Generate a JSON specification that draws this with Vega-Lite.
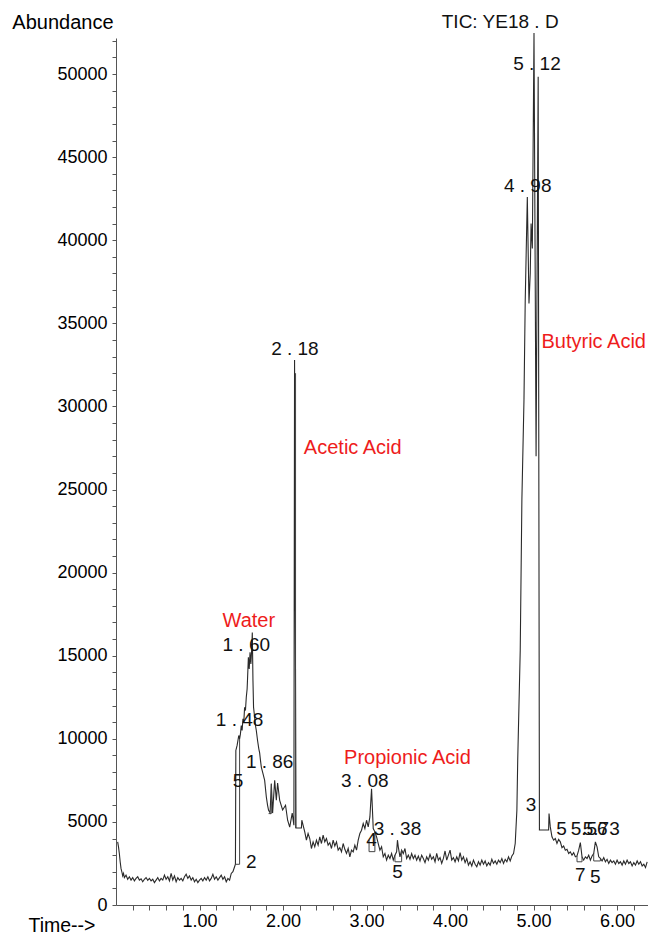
{
"$schema": "https://vega.github.io/schema/vega-lite/v6.json",
"width": 532, "height": 867,
"autosize": {"type": "none"},
"padding": {"left": 116, "top": 38, "right": 0, "bottom": 30},
"background": "white",
"config": {"view": {"stroke": null}, "font": "Liberation Sans"},
"datasets": {
"sig": [
{"t":0.02,"A":3800},{"t":0.03,"A":3500},{"t":0.04,"A":3100},{"t":0.05,"A":2600},{"t":0.06,"A":2200},{"t":0.07,"A":2000},{"t":0.08,"A":1750},{"t":0.09,"A":1900},{"t":0.10,"A":1650},
{"t":0.12,"A":1800},{"t":0.14,"A":1550},{"t":0.16,"A":1700},{"t":0.18,"A":1500},{"t":0.20,"A":1650},{"t":0.22,"A":1450},{"t":0.24,"A":1600},{"t":0.26,"A":1700},{"t":0.28,"A":1500},{"t":0.30,"A":1580},
{"t":0.32,"A":1400},{"t":0.34,"A":1550},{"t":0.36,"A":1650},{"t":0.38,"A":1480},{"t":0.40,"A":1600},{"t":0.42,"A":1450},{"t":0.44,"A":1550},{"t":0.46,"A":1350},{"t":0.48,"A":1500},{"t":0.50,"A":1650},
{"t":0.52,"A":1450},{"t":0.54,"A":1600},{"t":0.56,"A":1500},{"t":0.58,"A":1800},{"t":0.60,"A":1550},{"t":0.62,"A":1700},{"t":0.64,"A":1450},{"t":0.66,"A":1900},{"t":0.68,"A":1500},{"t":0.70,"A":1750},
{"t":0.72,"A":1400},{"t":0.74,"A":1650},{"t":0.76,"A":1500},{"t":0.78,"A":1600},{"t":0.80,"A":1450},{"t":0.82,"A":1700},{"t":0.84,"A":1850},{"t":0.86,"A":1600},{"t":0.88,"A":1750},{"t":0.90,"A":1500},
{"t":0.92,"A":1650},{"t":0.94,"A":1400},{"t":0.96,"A":1550},{"t":0.98,"A":1350},{"t":1.00,"A":1500},{"t":1.02,"A":1600},{"t":1.04,"A":1450},{"t":1.06,"A":1650},{"t":1.08,"A":1500},{"t":1.10,"A":1700},
{"t":1.12,"A":1450},{"t":1.14,"A":1600},{"t":1.16,"A":1850},{"t":1.18,"A":1550},{"t":1.20,"A":1700},{"t":1.22,"A":1500},{"t":1.24,"A":1650},{"t":1.26,"A":1800},{"t":1.28,"A":1550},{"t":1.30,"A":1700},
{"t":1.32,"A":1400},{"t":1.34,"A":1600},{"t":1.36,"A":1500},{"t":1.38,"A":1900},{"t":1.40,"A":2000},{"t":1.42,"A":2300},{"t":1.43,"A":2450},
{"t":1.435,"A":9300},{"t":1.45,"A":9600},{"t":1.47,"A":10200},{"t":1.48,"A":10000},{"t":1.49,"A":10300},{"t":1.50,"A":10800},{"t":1.51,"A":10500},{"t":1.52,"A":11200},{"t":1.53,"A":11000},
{"t":1.54,"A":11900},{"t":1.55,"A":11700},{"t":1.56,"A":12500},{"t":1.57,"A":13000},{"t":1.575,"A":13600},{"t":1.585,"A":14900},{"t":1.595,"A":14200},{"t":1.605,"A":15200},{"t":1.615,"A":14500},
{"t":1.625,"A":15400},{"t":1.632,"A":16400},{"t":1.64,"A":13500},{"t":1.647,"A":11900},{"t":1.66,"A":11300},{"t":1.67,"A":10800},{"t":1.68,"A":10500},{"t":1.695,"A":9900},{"t":1.71,"A":9400},
{"t":1.72,"A":9150},{"t":1.73,"A":8700},{"t":1.74,"A":8300},{"t":1.76,"A":7900},{"t":1.78,"A":7500},{"t":1.80,"A":6500},{"t":1.815,"A":6000},{"t":1.827,"A":5700},{"t":1.845,"A":5550},
{"t":1.86,"A":7300},{"t":1.875,"A":5530},{"t":1.90,"A":7500},{"t":1.92,"A":6300},{"t":1.935,"A":7340},{"t":1.96,"A":6300},{"t":1.995,"A":5720},{"t":2.03,"A":6000},{"t":2.055,"A":5100},
{"t":2.08,"A":4690},{"t":2.11,"A":5530},{"t":2.13,"A":4800},{"t":2.138,"A":32800},{"t":2.155,"A":4630},{"t":2.22,"A":4630},{"t":2.225,"A":5100},
{"t":2.24,"A":4800},{"t":2.26,"A":4400},{"t":2.28,"A":3900},{"t":2.30,"A":4300},{"t":2.32,"A":4000},{"t":2.34,"A":3400},{"t":2.36,"A":3800},{"t":2.38,"A":3500},{"t":2.40,"A":3900},{"t":2.42,"A":3600},
{"t":2.44,"A":4100},{"t":2.46,"A":3700},{"t":2.48,"A":4200},{"t":2.50,"A":3800},{"t":2.52,"A":4000},{"t":2.54,"A":3600},{"t":2.56,"A":3750},{"t":2.58,"A":3400},{"t":2.60,"A":3900},{"t":2.62,"A":3550},
{"t":2.64,"A":3800},{"t":2.66,"A":3300},{"t":2.68,"A":3450},{"t":2.70,"A":3200},{"t":2.72,"A":3700},{"t":2.74,"A":3350},{"t":2.76,"A":3100},{"t":2.78,"A":3400},{"t":2.80,"A":2900},{"t":2.82,"A":3300},
{"t":2.84,"A":3200},{"t":2.86,"A":3600},{"t":2.88,"A":3300},{"t":2.90,"A":3900},{"t":2.92,"A":4300},{"t":2.94,"A":4500},{"t":2.96,"A":4900},{"t":2.98,"A":4600},{"t":3.00,"A":5100},{"t":3.02,"A":4700},
{"t":3.04,"A":5300},{"t":3.06,"A":7000},{"t":3.08,"A":4600},{"t":3.10,"A":4400},{"t":3.12,"A":4100},{"t":3.14,"A":3700},{"t":3.16,"A":3300},{"t":3.18,"A":3500},{"t":3.20,"A":2900},{"t":3.22,"A":3100},
{"t":3.24,"A":2700},{"t":3.26,"A":3000},{"t":3.28,"A":2800},{"t":3.30,"A":3100},{"t":3.32,"A":2700},{"t":3.34,"A":3000},{"t":3.36,"A":3200},{"t":3.37,"A":3900},{"t":3.38,"A":3500},{"t":3.40,"A":2900},
{"t":3.42,"A":3300},{"t":3.44,"A":3100},{"t":3.46,"A":3400},{"t":3.48,"A":2800},{"t":3.50,"A":3000},{"t":3.52,"A":2750},{"t":3.54,"A":3100},{"t":3.56,"A":2800},{"t":3.58,"A":3000},{"t":3.60,"A":2700},
{"t":3.62,"A":2950},{"t":3.64,"A":2650},{"t":3.66,"A":3000},{"t":3.68,"A":2800},{"t":3.70,"A":2550},{"t":3.72,"A":2900},{"t":3.74,"A":2700},{"t":3.76,"A":3050},{"t":3.78,"A":2750},{"t":3.80,"A":2900},
{"t":3.82,"A":2600},{"t":3.84,"A":3100},{"t":3.86,"A":2700},{"t":3.88,"A":2850},{"t":3.90,"A":2500},{"t":3.92,"A":2800},{"t":3.94,"A":3250},{"t":3.96,"A":2700},{"t":3.98,"A":3000},{"t":4.00,"A":3300},
{"t":4.02,"A":2700},{"t":4.04,"A":2850},{"t":4.06,"A":2600},{"t":4.08,"A":2900},{"t":4.10,"A":2650},{"t":4.12,"A":3150},{"t":4.14,"A":2700},{"t":4.16,"A":2900},{"t":4.18,"A":2550},{"t":4.20,"A":2800},
{"t":4.22,"A":2400},{"t":4.24,"A":2600},{"t":4.26,"A":2350},{"t":4.28,"A":2700},{"t":4.30,"A":2450},{"t":4.32,"A":2300},{"t":4.34,"A":2600},{"t":4.36,"A":2400},{"t":4.38,"A":2700},{"t":4.40,"A":2450},
{"t":4.42,"A":2650},{"t":4.44,"A":2350},{"t":4.46,"A":2550},{"t":4.48,"A":2400},{"t":4.50,"A":2750},{"t":4.52,"A":2500},{"t":4.54,"A":2650},{"t":4.56,"A":2450},{"t":4.58,"A":2700},{"t":4.60,"A":2550},
{"t":4.62,"A":2800},{"t":4.64,"A":2500},{"t":4.66,"A":2750},{"t":4.68,"A":2600},{"t":4.70,"A":2900},{"t":4.72,"A":2650},{"t":4.74,"A":2950},{"t":4.76,"A":3100},{"t":4.78,"A":3700},{"t":4.80,"A":5700},
{"t":4.81,"A":8700},{"t":4.84,"A":15300},{"t":4.86,"A":24400},{"t":4.885,"A":30400},{"t":4.90,"A":36400},{"t":4.925,"A":42600},{"t":4.945,"A":36200},{"t":4.96,"A":38000},{"t":4.97,"A":41000},
{"t":4.985,"A":39500},{"t":5.005,"A":52470},{"t":5.03,"A":27000},{"t":5.055,"A":49840},{"t":5.07,"A":4510},{"t":5.18,"A":4510},{"t":5.185,"A":5500},
{"t":5.20,"A":4700},{"t":5.22,"A":4100},{"t":5.24,"A":3900},{"t":5.26,"A":4000},{"t":5.28,"A":3700},{"t":5.30,"A":3950},{"t":5.32,"A":3800},{"t":5.34,"A":3450},{"t":5.36,"A":3550},{"t":5.38,"A":3300},
{"t":5.40,"A":3350},{"t":5.42,"A":3100},{"t":5.44,"A":3200},{"t":5.46,"A":3000},{"t":5.48,"A":3150},{"t":5.50,"A":2900},{"t":5.52,"A":2950},{"t":5.54,"A":3300},{"t":5.56,"A":3750},{"t":5.58,"A":2900},
{"t":5.60,"A":2700},{"t":5.62,"A":2900},{"t":5.64,"A":2800},{"t":5.66,"A":3000},{"t":5.68,"A":2700},{"t":5.70,"A":2950},{"t":5.72,"A":3100},{"t":5.74,"A":3800},{"t":5.76,"A":3500},{"t":5.78,"A":2900},
{"t":5.80,"A":2800},{"t":5.82,"A":2650},{"t":5.84,"A":2850},{"t":5.86,"A":2600},{"t":5.88,"A":2750},{"t":5.90,"A":2500},{"t":5.92,"A":2700},{"t":5.94,"A":2550},{"t":5.96,"A":2650},{"t":5.98,"A":2450},
{"t":6.00,"A":2700},{"t":6.02,"A":2500},{"t":6.04,"A":2600},{"t":6.06,"A":2400},{"t":6.08,"A":2650},{"t":6.10,"A":2450},{"t":6.12,"A":2700},{"t":6.14,"A":2500},{"t":6.16,"A":2600},{"t":6.18,"A":2350},
{"t":6.20,"A":2550},{"t":6.22,"A":2400},{"t":6.24,"A":2650},{"t":6.26,"A":2450},{"t":6.28,"A":2600},{"t":6.30,"A":2350},{"t":6.32,"A":2450},{"t":6.34,"A":2250},{"t":6.36,"A":2600}
],
"boxes": [
{"t":1.43,"t2":1.48,"A":2450,"A2":2450},{"t":1.48,"t2":1.48,"A":2450,"A2":10000},
{"t":1.827,"t2":1.86,"A":5500,"A2":5500},{"t":1.86,"t2":1.86,"A":5500,"A2":7300},
{"t":2.15,"t2":2.15,"A":4630,"A2":32000},
{"t":3.03,"t2":3.10,"A":3210,"A2":3210},{"t":3.03,"t2":3.03,"A":3210,"A2":3900},{"t":3.10,"t2":3.10,"A":3210,"A2":4400},
{"t":3.34,"t2":3.42,"A":2600,"A2":2600},{"t":3.34,"t2":3.34,"A":2600,"A2":3000},{"t":3.42,"t2":3.42,"A":2600,"A2":3300},
{"t":5.52,"t2":5.58,"A":2600,"A2":2600},{"t":5.52,"t2":5.52,"A":2600,"A2":2950},{"t":5.58,"t2":5.58,"A":2600,"A2":2900},
{"t":5.72,"t2":5.80,"A":2650,"A2":2650},{"t":5.72,"t2":5.72,"A":2650,"A2":3100},{"t":5.80,"t2":5.80,"A":2650,"A2":2800}
],
"labels": [
{"t":4.60,"A":53130,"txt":"TIC: YE18 . D"},
{"t":5.04,"A":50600,"txt":"5 . 12"},
{"t":4.93,"A":43260,"txt":"4 . 98"},
{"t":2.142,"A":33450,"txt":"2 . 18"},
{"t":1.56,"A":15640,"txt":"1 . 60"},
{"t":1.48,"A":11130,"txt":"1 . 48"},
{"t":1.84,"A":8600,"txt":"1 . 86"},
{"t":1.46,"A":7460,"txt":"5"},
{"t":1.62,"A":2590,"txt":"2"},
{"t":2.98,"A":7460,"txt":"3 . 08"},
{"t":3.37,"A":4570,"txt":"3 . 38"},
{"t":3.06,"A":3910,"txt":"4"},
{"t":3.37,"A":1990,"txt":"5"},
{"t":4.97,"A":6020,"txt":"3"},
{"t":5.335,"A":4570,"txt":"5"},
{"t":5.665,"A":4570,"txt":"5.56"},
{"t":5.81,"A":4570,"txt":"5.73"},
{"t":5.56,"A":1800,"txt":"7"},
{"t":5.74,"A":1690,"txt":"5"}
],
"names": [
{"t":1.59,"A":17090,"txt":"Water"},
{"t":2.835,"A":27500,"txt":"Acetic Acid"},
{"t":3.49,"A":8850,"txt":"Propionic Acid"},
{"t":5.72,"A":33880,"txt":"Butyric Acid"}
]
},
"encoding": {
"x": {"field": "t", "type": "quantitative",
"scale": {"domain": [0, 6.37], "nice": false, "zero": false},
"axis": {"orient": "bottom", "title": "Time-->", "titleFontSize": 19.5, "titleFontWeight": "normal", "titleColor": "#000",
"titleAlign": "right", "titleBaseline": "middle", "titleX": -21, "titleY": 20,
"values": [0.2,0.4,0.6,0.8,1,1.2,1.4,1.6,1.8,2,2.2,2.4,2.6,2.8,3,3.2,3.4,3.6,3.8,4,4.2,4.4,4.6,4.8,5,5.2,5.4,5.6,5.8,6,6.2],
"labelExpr": "abs(datum.value - round(datum.value)) < 0.001 ? format(datum.value, '.2f') : ''",
"labelFontSize": 18, "labelColor": "#000", "labelPadding": 2,
"grid": false, "domainColor": "#555", "tickColor": "#555", "tickSize": 5
}},
"y": {"field": "A", "type": "quantitative",
"scale": {"domain": [0, 52170], "nice": false},
"axis": {"orient": "left", "title": "Abundance", "titleFontSize": 20, "titleFontWeight": "normal", "titleColor": "#000",
"titleAngle": 0, "titleAlign": "right", "titleBaseline": "middle", "titleX": -3, "titleY": -16,
"values": [0,1000,2000,3000,4000,5000,6000,7000,8000,9000,10000,11000,12000,13000,14000,15000,16000,17000,18000,19000,20000,21000,22000,23000,24000,25000,26000,27000,28000,29000,30000,31000,32000,33000,34000,35000,36000,37000,38000,39000,40000,41000,42000,43000,44000,45000,46000,47000,48000,49000,50000,51000,52000],
"labelExpr": "datum.value % 5000 == 0 ? format(datum.value, 'd') : ''",
"labelFontSize": 18, "labelColor": "#000", "labelPadding": 5,
"grid": false, "domainColor": "#555", "tickColor": "#555", "tickSize": 4
}}
},
"layer": [
{
"data": {"name": "sig"},
"mark": {"type": "line", "color": "#2a2a2a", "strokeWidth": 1.1}
},
{
"data": {"name": "boxes"},
"mark": {"type": "rule", "color": "#444444", "strokeWidth": 1},
"encoding": {
"x2": {"field": "t2"},
"y2": {"field": "A2"}
}
},
{
"data": {"name": "labels"},
"mark": {"type": "text", "fontSize": 19, "color": "#111111", "align": "center", "baseline": "middle"},
"encoding": {
"text": {"field": "txt"}
}
},
{
"data": {"name": "names"},
"mark": {"type": "text", "fontSize": 20, "color": "#ee1c1c", "align": "center", "baseline": "middle"},
"encoding": {
"text": {"field": "txt"}
}
}
]
}
